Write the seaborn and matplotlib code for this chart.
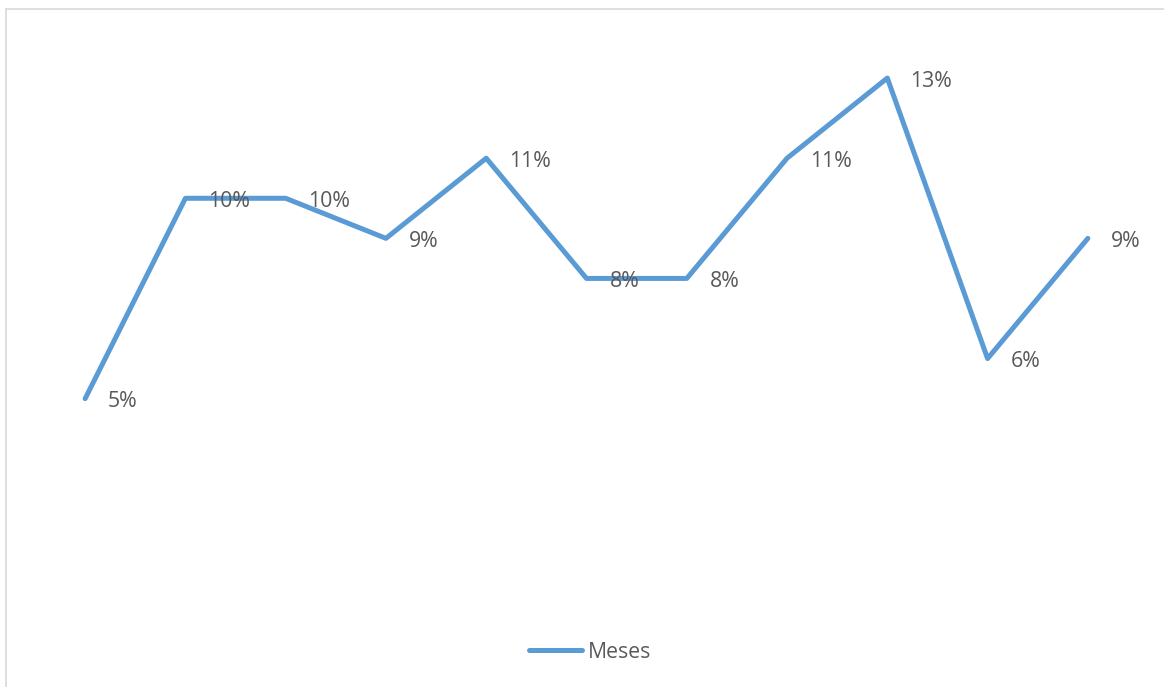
import matplotlib
matplotlib.use("Agg")
import matplotlib.pyplot as plt
from matplotlib.lines import Line2D
import seaborn as sns
import pandas as pd

# data
categorias = ["1", "2", "3", "4", "5", "6", "7", "8", "9", "10", "11"]
valores = [5, 10, 10, 9, 11, 8, 8, 11, 13, 6, 9]
serie = "Meses"

sns.set_style("white")
plt.rcParams['font.family'] = ['Open Sans', 'DejaVu Sans']

W, H = 1164, 687
fig = plt.figure(figsize=(W / 100, H / 100), dpi=100)
ax = fig.add_axes([35 / W, 1 - 599 / H, (1138 - 35) / W, (599 - 38) / H])

df = pd.DataFrame({"pos": range(len(categorias)), "valor": valores, "serie": serie})
sns.lineplot(data=df, x="pos", y="valor", ax=ax, color="#5B9BD5", linewidth=3.6,
             sort=False, label=serie, legend=False,
             solid_capstyle="round", solid_joinstyle="round")

ax.set_xlim(-0.5, len(categorias) - 0.5)
ax.set_ylim(0, 14)
ax.axis("off")

# data labels to the right
for i, v in enumerate(valores):
    ax.annotate(f"{v}%", (i, v), xytext=(16.5, -2.2), textcoords="offset points",
                ha="left", va="center", fontsize=15.3, color="#595959")

# legend at bottom
handle = Line2D([], [], color="#5B9BD5", linewidth=3.6, solid_capstyle="round")
fig.legend([handle], [serie], loc="center", bbox_to_anchor=(590 / W, 1 - 652 / H),
           frameon=False, fontsize=15.3, handlelength=2.5, handletextpad=0.25,
           labelcolor="#595959")

# chart area border (top and left visible)
fig.add_artist(Line2D([5.5 / W, 1], [1 - 8.5 / H, 1 - 8.5 / H], color="#D9D9D9", linewidth=1.2))
fig.add_artist(Line2D([5.5 / W, 5.5 / W], [0, 1 - 8.5 / H], color="#D9D9D9", linewidth=1.2))

fig.savefig("out.png", dpi=100)
